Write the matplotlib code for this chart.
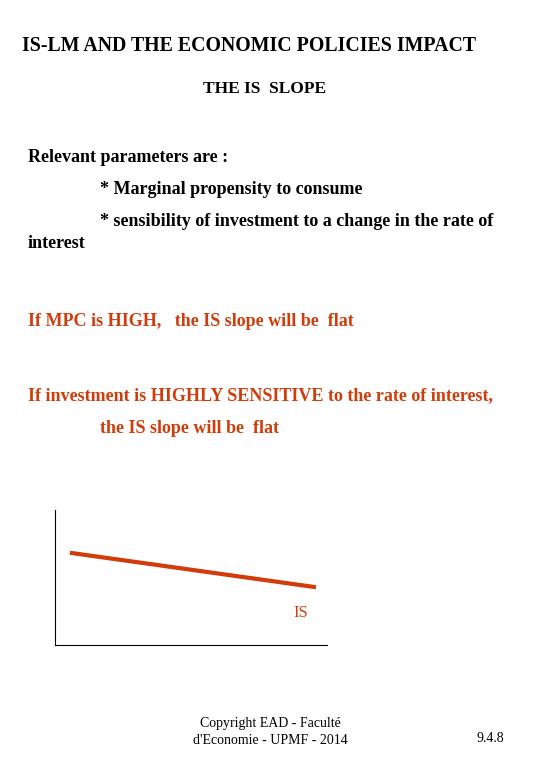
import matplotlib
matplotlib.use("Agg")
import matplotlib.pyplot as plt

is_x = [0.625, 9.52]
is_y = [6.81, 4.30]

W, H = 540, 780
fig = plt.figure(figsize=(5.4, 7.8), dpi=100)
fig.patch.set_facecolor("white")
serif = ["Liberation Serif", "DejaVu Serif"]
red = "#d23c0a"

def t(x, y, s, size=13, color="black", weight="bold", ha="left"):
    fig.text(x / W, 1 - y / H, s, fontsize=size, color=color, weight=weight,
             ha=ha, va="center", family=serif)

t(22, 46, "IS-LM AND THE ECONOMIC POLICIES IMPACT", size=14.3)
t(203, 89, "THE IS  SLOPE", size=12.5)
t(28, 158, "Relevant parameters are :")
t(100, 190, "* Marginal propensity to consume")
t(100, 221, "* sensibility of investment to a change in the rate of")
t(28, 243, "interest")
t(28, 322, "If MPC is HIGH,   the IS slope will be  flat", color=red)
t(28, 396, "If investment is HIGHLY SENSITIVE to the rate of interest,", color=red)
t(100, 428, "the IS slope will be  flat", color=red)

ax = fig.add_axes([55 / W, 1 - 645 / H, 272 / W, 135 / H])
ax.plot(is_x, is_y, color=red, lw=3)
ax.set_xlim(0, 10)
ax.set_ylim(0, 10)
ax.set_xticks([]); ax.set_yticks([])
ax.spines["top"].set_visible(False)
ax.spines["right"].set_visible(False)
ax.spines["left"].set_linewidth(0.8)
ax.spines["bottom"].set_linewidth(0.8)
ax.text(9.05, 2.35, "IS", color=red, fontsize=12, family=serif, ha="center", va="center")

t(270, 723, "Copyright EAD - Faculté", size=10, weight="normal", ha="center")
t(270, 741, "d'Economie - UPMF - 2014", size=10, weight="normal", ha="center")
t(490, 739, "9.4.8", size=10, weight="normal", ha="center")

fig.savefig("out.png", dpi=100)
